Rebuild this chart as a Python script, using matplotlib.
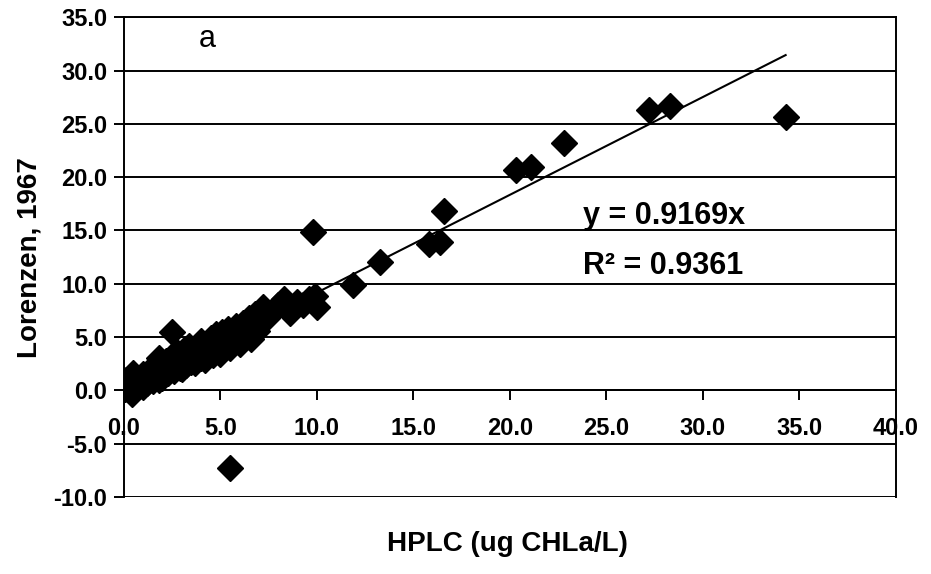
import matplotlib
matplotlib.use("Agg")
import matplotlib.pyplot as plt
import numpy as np

plt.rcParams["font.family"] = ["Liberation Sans", "DejaVu Sans"]

# HPLC (x) vs Lorenzen 1967 (y), ug CHLa/L
hplc = [
    0.05, 0.1, 0.2, 0.3, 0.4, 0.5, 0.5, 0.6, 0.7, 0.8, 0.9, 1.0, 1.0,
    1.1, 1.2, 1.3, 1.4, 1.5, 1.6, 1.7, 1.8, 1.8, 1.9, 2.0, 2.0,
    2.1, 2.2, 2.3, 2.4, 2.5, 2.5, 2.6, 2.7, 2.8, 2.9, 3.0, 3.0,
    3.1, 3.2, 3.3, 3.4, 3.5, 3.6, 3.7, 3.8, 3.9, 4.0, 4.0,
    4.1, 4.2, 4.3, 4.4, 4.5, 4.6, 4.7, 4.8, 4.9, 5.0, 5.0,
    5.1, 5.2, 5.3, 5.4, 5.5, 5.6, 5.7, 5.8, 5.9, 6.0, 6.0,
    6.2, 6.3, 6.4, 6.5, 6.6, 6.7, 6.8, 6.9, 7.0, 7.2,
    7.4, 7.6, 8.0, 8.3, 8.6, 8.8, 9.0, 9.3, 9.6, 9.9, 10.0,
    9.8, 11.9, 13.3, 15.8, 16.4, 16.6, 20.3, 21.1, 22.8,
    27.2, 28.3, 34.3, 5.5,
]
lorenzen = [
    0.1, 1.0, 0.3, 0.8, -0.3, 1.6, 0.5, 1.2, 0.3, 0.9, 0.6, 1.5, 0.3,
    1.0, 0.7, 1.8, 1.2, 0.9, 2.2, 1.4, 3.0, 1.0, 1.7, 2.4, 1.2,
    1.9, 2.8, 1.6, 2.2, 5.5, 3.2, 1.8, 2.6, 3.5, 2.1, 2.9, 2.0,
    3.8, 2.4, 3.1, 4.2, 2.7, 3.5, 2.6, 4.0, 3.2, 4.6, 3.0,
    3.8, 2.9, 4.3, 3.5, 4.9, 3.3, 4.1, 5.3, 3.8, 4.5, 3.4,
    5.5, 4.2, 4.9, 5.8, 4.0, 5.2, 4.6, 6.0, 5.0, 5.5, 4.4,
    6.3, 5.2, 5.8, 6.8, 4.8, 6.0, 7.2, 5.6, 6.5, 7.8,
    6.8, 7.2, 8.0, 8.6, 7.3, 7.9, 8.3, 8.0, 8.6, 8.9, 7.8,
    14.9, 9.9, 12.0, 13.7, 13.9, 16.8, 20.7, 21.0, 23.2,
    26.3, 26.7, 25.6, -7.3,
]

slope = 0.9169
r2 = 0.9361

x_ticks = [0, 5, 10, 15, 20, 25, 30, 35, 40]
y_ticks = [-10, -5, 0, 5, 10, 15, 20, 25, 30, 35]

fig = plt.figure(figsize=(9.31, 5.74), dpi=100)
ax = fig.add_axes([0.133, 0.134, 0.829, 0.836])

for yv in y_ticks:
    ax.axhline(yv, color="black", lw=1.4, zorder=1)

ax.plot(hplc, lorenzen, "D", ms=13, color="black", mec="black", zorder=3)

xfit = np.array([0.0, max(hplc)])
ax.plot(xfit, slope * xfit, color="black", lw=1.5, zorder=4)

ax.set_xlim(0, 40)
ax.set_ylim(-10, 35)
ax.set_xticks(x_ticks)
ax.set_xticklabels([f"{v:.1f}" for v in x_ticks])
ax.set_yticks(y_ticks)
ax.set_yticklabels([f"{v:.1f}" for v in y_ticks])

ax.spines["bottom"].set_position(("data", 0))
for s in ax.spines.values():
    s.set_linewidth(1.4)
ax.tick_params(axis="both", direction="out", length=7, width=1.4,
               labelsize=17, pad=5)
for lab in ax.get_xticklabels() + ax.get_yticklabels():
    lab.set_fontweight("bold")
ax.tick_params(axis="x", pad=12)

ax.set_ylabel("Lorenzen, 1967", fontsize=20, fontweight="bold", labelpad=8)
fig.text(0.545, 0.052, "HPLC (ug CHLa/L)", fontsize=20, fontweight="bold",
         ha="center", va="center")

ax.text(4.3, 33, "a", fontsize=22, ha="center", va="center")
ax.text(23.8, 16.4, f"y = {slope}x", fontsize=22, fontweight="bold",
        ha="left", va="center")
ax.text(23.8, 11.7, f"R\u00b2 = {r2}", fontsize=22, fontweight="bold",
        ha="left", va="center")

fig.savefig("out.png", dpi=100)
